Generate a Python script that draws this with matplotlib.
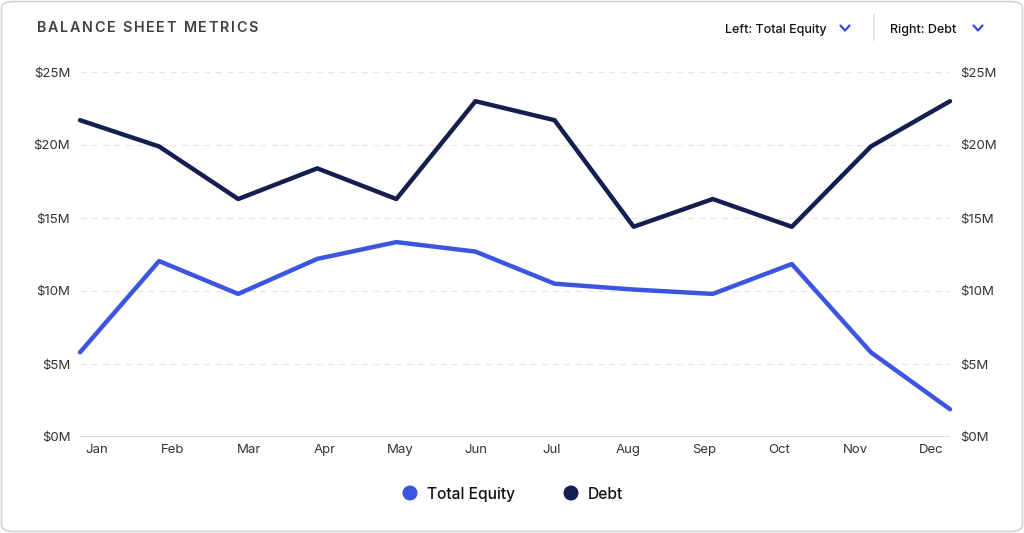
import matplotlib.pyplot as plt
from matplotlib.patches import FancyBboxPatch, Circle
from matplotlib.lines import Line2D

plt.rcParams['font.family'] = ['Inter', 'DejaVu Sans']

months = ['Jan', 'Feb', 'Mar', 'Apr', 'May', 'Jun', 'Jul', 'Aug', 'Sep', 'Oct', 'Nov', 'Dec']
equity = [5.8, 12.05, 9.8, 12.2, 13.35, 12.7, 10.5, 10.1, 9.8, 11.85, 5.8, 1.9]
debt = [21.7, 19.9, 16.3, 18.4, 16.3, 23.0, 21.7, 14.4, 16.3, 14.4, 19.9, 23.0]
yticks = [0, 5, 10, 15, 20, 25]

EQ = '#3b55e0'
DEBT = '#141f4f'
W, H = 1024, 533

fig = plt.figure(figsize=(W / 100, H / 100), dpi=100)
fig.patch.set_facecolor('white')

# card frame (behind the axes)
card = FancyBboxPatch((1.5 / W, 1.5 / H), (W - 3) / W, (H - 3) / H,
                      boxstyle='round,pad=0,rounding_size=0.012',
                      transform=fig.transFigure, facecolor='white',
                      edgecolor='#d4d4d4', linewidth=1.2, zorder=-10)
fig.patches.append(card)

ax = fig.add_axes([80 / W, 1 - 437 / H, 870 / W, 365 / H])
ax2 = ax.twinx()
ax.patch.set_alpha(0)
ax2.patch.set_alpha(0)

x = list(range(len(months)))
ax.plot(x, equity, color=EQ, lw=3.2, solid_capstyle='round', solid_joinstyle='round', clip_on=False, zorder=3)
ax2.plot(x, debt, color=DEBT, lw=3.2, solid_capstyle='round', solid_joinstyle='round', clip_on=False, zorder=3)

for a in (ax, ax2):
    a.set_ylim(0, 25)
    a.set_xlim(0, 11)
    a.set_yticks(yticks)
    a.set_yticklabels(['$%dM' % v for v in yticks])
    for s in a.spines.values():
        s.set_visible(False)
    a.tick_params(axis='y', length=0, labelsize=9.5, labelcolor='#333333', pad=7)

ax.tick_params(axis='x', length=0, labelsize=9.5, labelcolor='#333333', pad=5)
# month labels sit evenly across the plot, slightly offset from the points
label_pos = [0.215 + i * 0.959 for i in range(len(months))]
ax.set_xticks(label_pos)
ax.set_xticklabels(months)

for v in yticks[1:]:
    ax.axhline(v, color='#e6e6e6', lw=0.9, ls=(0, (5, 4)), zorder=0)
ax.axhline(0, color='#dcdcdc', lw=1.4, zorder=1)

# title with letter spacing
fig.canvas.draw()
r = fig.canvas.get_renderer()
title = 'BALANCE SHEET METRICS'
px = 37
for ch in title:
    t = fig.text(px / W, 1 - 27 / H, ch, fontsize=10.3, color='#404040',
                 va='center_baseline', ha='left', fontweight='semibold')
    if ch == ' ':
        wpx = 4.0
    else:
        wpx = t.get_window_extent(renderer=r).width
    px += wpx + 1.7

# dropdowns
fig.text(725 / W, 1 - 28 / H, 'Left: Total Equity', fontsize=9, color='#111111',
         va='center_baseline', ha='left', fontweight='medium')
fig.text(890 / W, 1 - 28 / H, 'Right: Debt', fontsize=9, color='#111111',
         va='center_baseline', ha='left', fontweight='medium')
for cx in (845, 978):
    fig.lines.append(Line2D([(cx - 4.5) / W, cx / W, (cx + 4.5) / W],
                            [1 - 25.5 / H, 1 - 30.5 / H, 1 - 25.5 / H],
                            transform=fig.transFigure, color='#2f4be0', lw=1.6,
                            solid_capstyle='round', solid_joinstyle='round'))
fig.lines.append(Line2D([874 / W, 874 / W], [1 - 15 / H, 1 - 40 / H],
                        transform=fig.transFigure, color='#e0e0e0', lw=1.2))

# legend
for cx, col, lab in ((410, EQ, 'Total Equity'), (571, DEBT, 'Debt')):
    fig.patches.append(Circle((cx, H - 493), 7.5, transform=None, facecolor=col,
                              edgecolor='none'))
    fig.text((cx + 17) / W, 1 - 493 / H, lab, fontsize=11.2, color='#111111',
             va='center_baseline', ha='left', fontweight='medium')

fig.savefig('out.png', dpi=100, facecolor='white')
